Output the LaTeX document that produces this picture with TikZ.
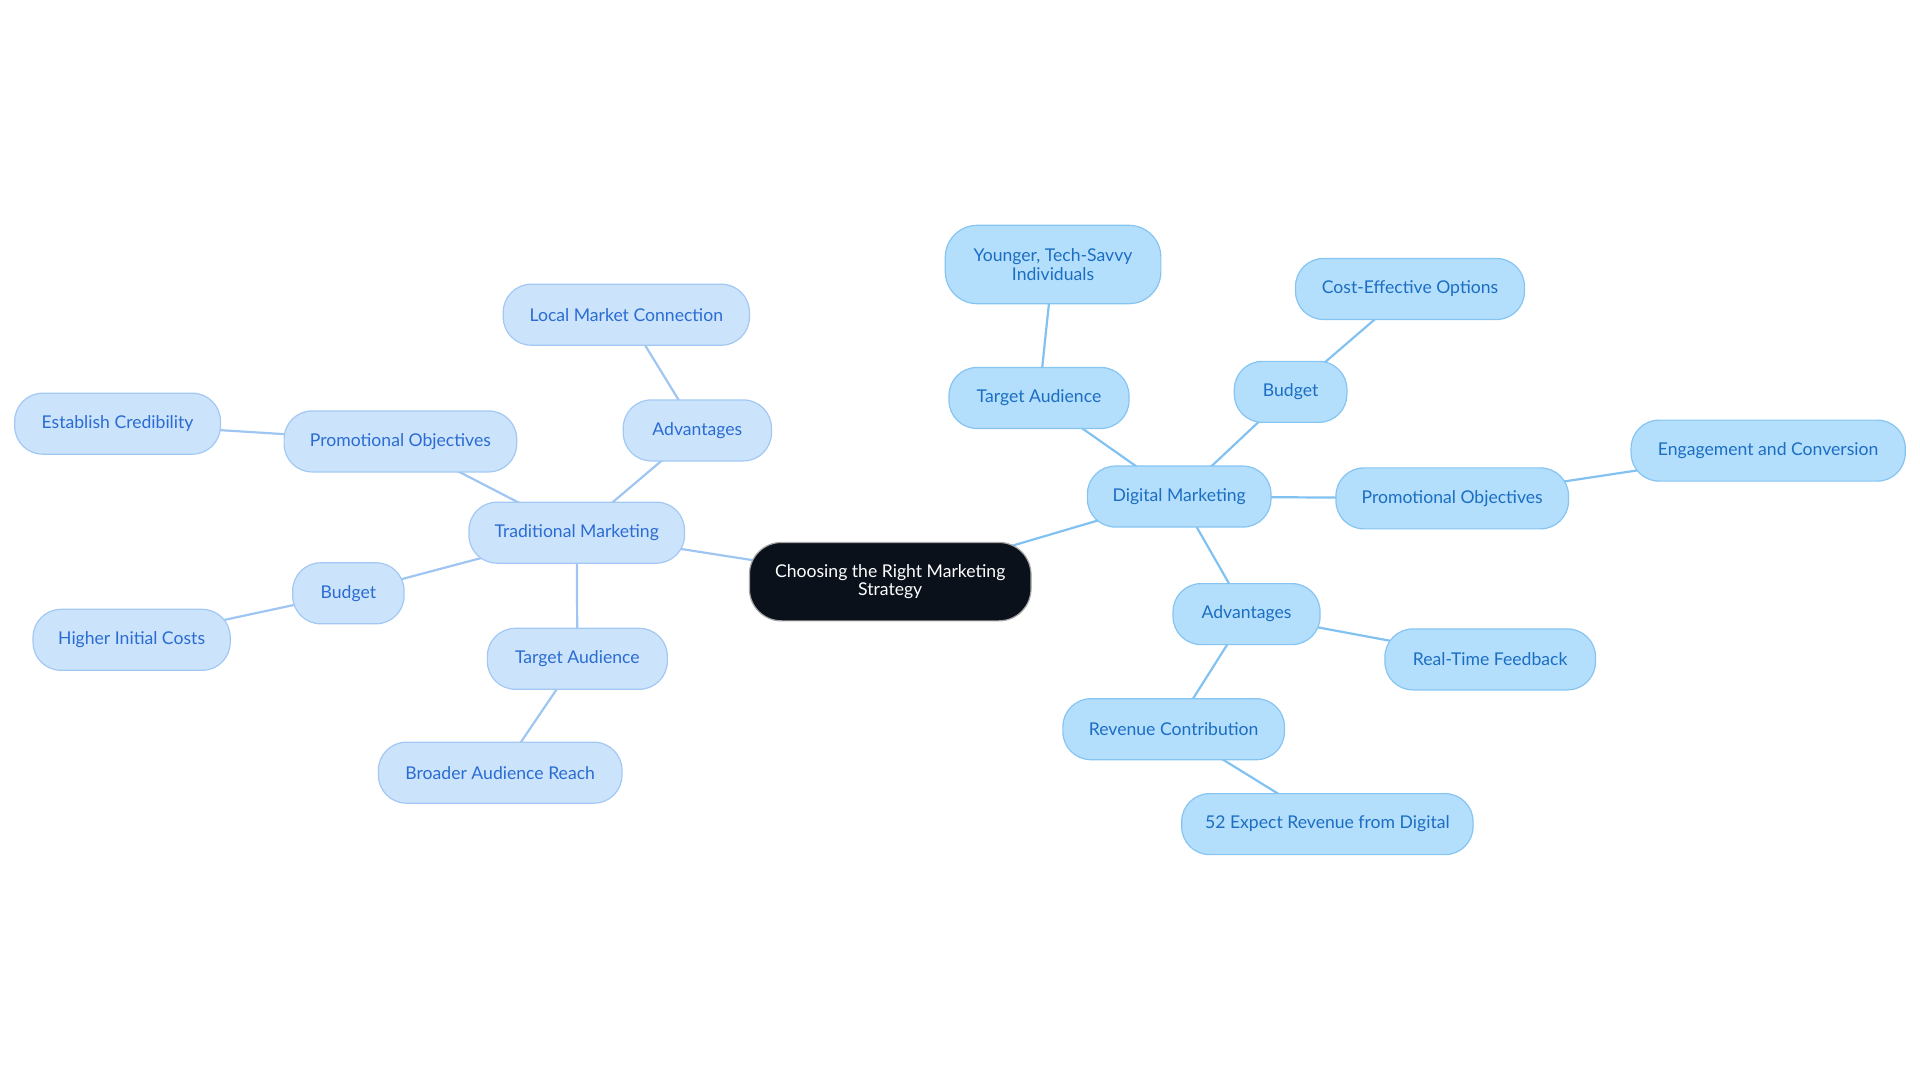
\documentclass[tikz,border=0pt]{standalone}
\usepackage{fontspec}
\setmainfont{Lato}
\usetikzlibrary{backgrounds}
\definecolor{lfill}{HTML}{CCE3FC}
\definecolor{ldraw}{HTML}{A3C8F3}
\definecolor{ltext}{HTML}{2A6CD2}
\definecolor{ledge}{HTML}{9FC5F2}
\definecolor{rfill}{HTML}{B3DEFC}
\definecolor{rdraw}{HTML}{86C5F2}
\definecolor{rtext}{HTML}{1C6EC2}
\definecolor{redge}{HTML}{82C2F2}
\definecolor{cfill}{HTML}{0B111B}
\tikzset{
  base/.style={rounded corners=14pt, minimum height=30.5pt, inner sep=0pt, align=center,
    font=\fontsize{8.8}{9.4}\selectfont, line width=0.6pt},
  lnode/.style={base, fill=lfill, draw=ldraw, text=ltext},
  rnode/.style={base, fill=rfill, draw=rdraw, text=rtext},
  cnode/.style={base, fill=cfill, draw=gray!70, text=white, minimum height=39.2pt, rounded corners=16pt},
  ledgestyle/.style={draw=ledge, line width=1.1pt},
  redgestyle/.style={draw=redge, line width=1.1pt},
}
\begin{document}
\begin{tikzpicture}[x=0.61225pt, y=-0.61225pt]
\useasboundingbox (0,0) rectangle (1568,884.4);
% central
\node[cnode, minimum width=140.8pt] (c) at (727,475) {Choosing the Right Marketing\\Strategy};
% left branch
\node[lnode, minimum width=107.8pt] (tm) at (471,435) {Traditional Marketing};
\node[lnode, minimum width=74.1pt] (ladv) at (569.5,351.5) {Advantages};
\node[lnode, minimum width=123.1pt] (lmc) at (511.5,257) {Local Market Connection};
\node[lnode, minimum width=116.3pt] (lpo) at (327,360.5) {Promotional Objectives};
\node[lnode, minimum width=102.9pt] (ec) at (96,346) {Establish Credibility};
\node[lnode, minimum width=55.7pt] (lbud) at (284.5,484.5) {Budget};
\node[lnode, minimum width=98.6pt] (hic) at (107.5,522.5) {Higher Initial Costs};
\node[lnode, minimum width=90pt] (lta) at (471.5,538) {Target Audience};
\node[lnode, minimum width=121.8pt] (bar) at (408.5,631) {Broader Audience Reach};
% right branch
\node[rnode, minimum width=91.8pt] (dm) at (963,405.5) {Digital Marketing};
\node[rnode, minimum width=90pt] (rta) at (848.5,325) {Target Audience};
\node[rnode, minimum width=107.8pt, minimum height=39.2pt, rounded corners=16pt] (yts) at (860,216) {Younger, Tech-Savvy\\Individuals};
\node[rnode, minimum width=56.3pt] (rbud) at (1054,320) {Budget};
\node[rnode, minimum width=114.5pt] (ceo) at (1151.5,236) {Cost-Effective Options};
\node[rnode, minimum width=116.3pt] (rpo) at (1186,407) {Promotional Objectives};
\node[rnode, minimum width=137.1pt] (eac) at (1444,368) {Engagement and Conversion};
\node[rnode, minimum width=73.5pt] (radv) at (1018,501.5) {Advantages};
\node[rnode, minimum width=105.3pt] (rtf) at (1217,538.5) {Real-Time Feedback};
\node[rnode, minimum width=110.8pt] (rc) at (958.5,595.5) {Revenue Contribution};
\node[rnode, minimum width=145.7pt] (erd) at (1084,673) {52 Expect Revenue from Digital};
% edges
\begin{scope}[on background layer]
\draw[ledgestyle] (c.center) -- (tm.center);
\draw[ledgestyle] (tm.center) -- (ladv.center);
\draw[ledgestyle] (ladv.center) -- (lmc.center);
\draw[ledgestyle] (tm.center) -- (lpo.center);
\draw[ledgestyle] (lpo.center) -- (ec.center);
\draw[ledgestyle] (tm.center) -- (lbud.center);
\draw[ledgestyle] (lbud.center) -- (hic.center);
\draw[ledgestyle] (tm.center) -- (lta.center);
\draw[ledgestyle] (lta.center) -- (bar.center);
\draw[redgestyle] (c.center) -- (dm.center);
\draw[redgestyle] (dm.center) -- (rta.center);
\draw[redgestyle] (rta.center) -- (yts.center);
\draw[redgestyle] (dm.center) -- (rbud.center);
\draw[redgestyle] (rbud.center) -- (ceo.center);
\draw[redgestyle] (dm.center) -- (rpo.center);
\draw[redgestyle] (rpo.center) -- (eac.center);
\draw[redgestyle] (dm.center) -- (radv.center);
\draw[redgestyle] (radv.center) -- (rtf.center);
\draw[redgestyle] (radv.center) -- (rc.center);
\draw[redgestyle] (rc.center) -- (erd.center);
\end{scope}
\end{tikzpicture}
\end{document}
